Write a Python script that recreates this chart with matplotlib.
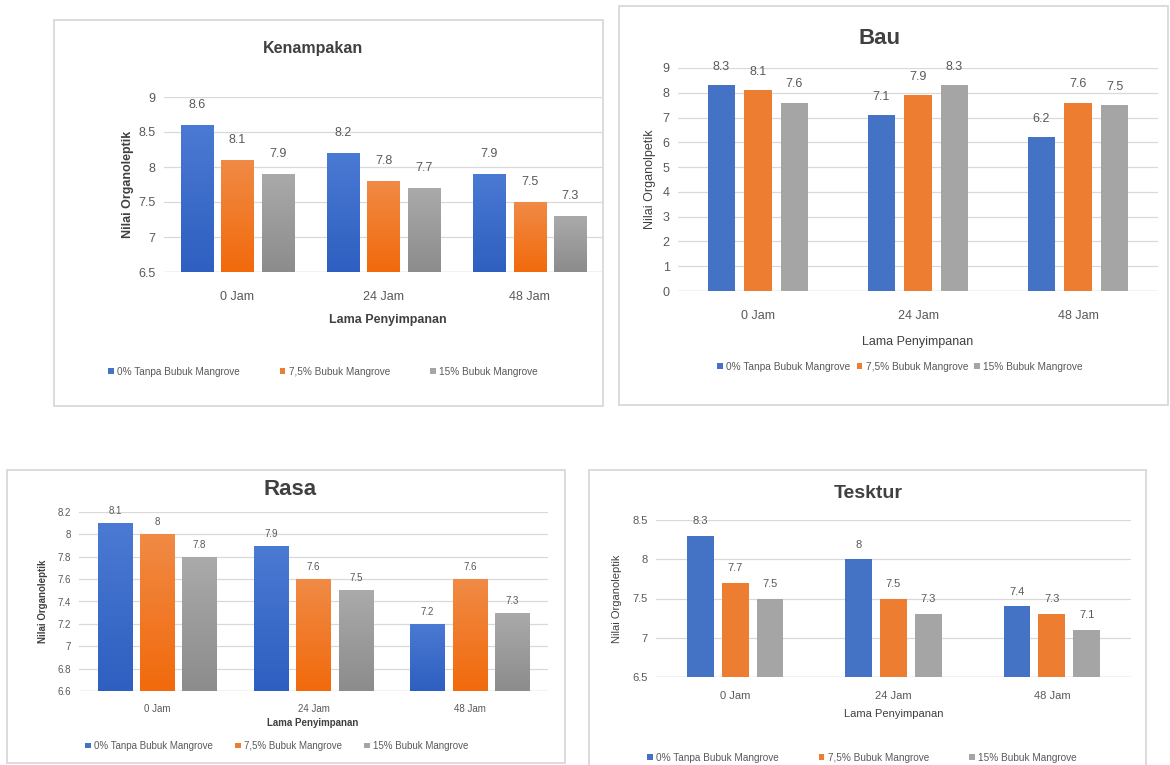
import matplotlib
matplotlib.use("Agg")
import matplotlib.pyplot as plt
import numpy as np
from matplotlib.patches import Rectangle
from matplotlib.colors import LinearSegmentedColormap

plt.rcParams['font.family'] = ['Liberation Sans', 'DejaVu Sans']

# ---- data ----
categories = ["0 Jam", "24 Jam", "48 Jam"]
series_names = ["0% Tanpa Bubuk Mangrove", "7,5% Bubuk Mangrove", "15% Bubuk Mangrove"]

kenampakan_0 = [8.6, 8.2, 7.9]
kenampakan_75 = [8.1, 7.8, 7.5]
kenampakan_15 = [7.9, 7.7, 7.3]

bau_0 = [8.3, 7.1, 6.2]
bau_75 = [8.1, 7.9, 7.6]
bau_15 = [7.6, 8.3, 7.5]

rasa_0 = [8.1, 7.9, 7.2]
rasa_75 = [8.0, 7.6, 7.6]
rasa_15 = [7.8, 7.5, 7.3]

tekstur_0 = [8.3, 8.0, 7.4]
tekstur_75 = [7.7, 7.5, 7.3]
tekstur_15 = [7.5, 7.3, 7.1]

kenampakan_ticks = [6.5, 7, 7.5, 8, 8.5, 9]
bau_ticks = [0, 1, 2, 3, 4, 5, 6, 7, 8, 9]
rasa_ticks = [6.6, 6.8, 7, 7.2, 7.4, 7.6, 7.8, 8, 8.2]
tekstur_ticks = [6.5, 7, 7.5, 8, 8.5]

colors = ["#4472C4", "#ED7D31", "#A5A5A5"]
grad_pairs = [("#4a7ad3", "#2f5fc0"), ("#f08a45", "#f26a0c"), ("#aaaaaa", "#8c8c8c")]

W, H = 1170, 765
fig = plt.figure(figsize=(W / 100, H / 100), dpi=100)
fig.patch.set_facecolor("white")


def px_axes(x0, y0, x1, y1):
    return fig.add_axes([x0 / W, 1 - y1 / H, (x1 - x0) / W, (y1 - y0) / H])


def px_box(x0, y0, x1, y1):
    fig.patches.append(Rectangle((x0 / W, 1 - y1 / H), (x1 - x0) / W, (y1 - y0) / H,
                                 transform=fig.transFigure, fill=False,
                                 edgecolor="#d9d9d9", linewidth=1.3, zorder=0))


def fmt(v):
    s = ("%.1f" % v)
    return s[:-2] if s.endswith(".0") else s


def panel(box, axbox, title, title_xy, title_size, values, ticks, width, offset,
          ylabel, ylabel_x, ylabel_bold, xlabel_x, xlabel_y, xlabel_bold, cat_pad,
          legend_xy, legend_fs, legend_spacing, label_pad, fs, gradient=False):
    px_box(*box)
    ax = px_axes(*axbox)
    ax.set_facecolor("none")
    x = np.arange(len(categories))
    for i, (vals, col) in enumerate(zip(values, colors)):
        bars = ax.bar(x + (i - 1) * offset, np.array(vals) - ticks[0], width, bottom=ticks[0],
                      color=col, label=series_names[i], zorder=3)
        if gradient:
            cmap = LinearSegmentedColormap.from_list("g", [grad_pairs[i][1], grad_pairs[i][0]])
            grad = np.linspace(0, 1, 64).reshape(-1, 1)
            for b in bars:
                bx, by = b.get_x(), b.get_y()
                im = ax.imshow(grad, cmap=cmap, aspect="auto", origin="lower",
                               extent=(bx, bx + b.get_width(), by, by + b.get_height()),
                               zorder=3.5)
                im.set_clip_path(b)
        for b, v in zip(bars, vals):
            ax.annotate(fmt(v), (b.get_x() + b.get_width() / 2, v), xytext=(0, label_pad),
                        textcoords="offset points", ha="center", va="bottom",
                        fontsize=fs, color="#595959", zorder=5)
    ax.set_xlim(-0.5, 2.5)
    ax.set_ylim(ticks[0], ticks[-1])
    ax.set_yticks(ticks)
    ax.set_yticklabels([fmt(t) for t in ticks], fontsize=fs, color="#595959")
    ax.set_xticks(x)
    ax.set_xticklabels(categories, fontsize=fs, color="#595959")
    ax.tick_params(axis="both", length=0)
    ax.tick_params(axis="x", pad=cat_pad)
    ax.tick_params(axis="y", pad=6)
    ax.grid(axis="y", color="#d9d9d9", linewidth=0.9, zorder=0)
    for s in ax.spines.values():
        s.set_visible(False)
    ax.axhline(ticks[0], color="#d9d9d9", linewidth=1.0, zorder=2)

    fig.text(title_xy[0] / W, 1 - title_xy[1] / H, title, ha="center", va="center",
             fontsize=title_size, fontweight="bold", color="#404040")
    fig.text(ylabel_x / W, 1 - (axbox[1] + axbox[3]) / 2 / H, ylabel, rotation=90,
             ha="center", va="center", fontsize=fs,
             fontweight="bold" if ylabel_bold else "normal", color="#404040")
    fig.text(xlabel_x / W, 1 - xlabel_y / H, "Lama Penyimpanan", ha="center", va="center",
             fontsize=fs, fontweight="bold" if xlabel_bold else "normal", color="#404040")
    ax.legend(loc="center", bbox_to_anchor=(legend_xy[0] / W, 1 - legend_xy[1] / H),
              bbox_transform=fig.transFigure, ncol=3, frameon=False,
              fontsize=legend_fs, handlelength=0.55, handleheight=0.55,
              handletextpad=0.35, columnspacing=legend_spacing, labelcolor="#595959")
    return ax


panel(box=(54, 20, 603, 406), axbox=(164, 97, 603, 272), title="Kenampakan",
      title_xy=(313, 48), title_size=11.5,
      values=[kenampakan_0, kenampakan_75, kenampakan_15], ticks=kenampakan_ticks,
      width=0.22, offset=0.277, ylabel="Nilai Organoleptik", ylabel_x=128, ylabel_bold=True,
      xlabel_x=388, xlabel_y=320, xlabel_bold=True, cat_pad=14, legend_xy=(323, 372),
      legend_fs=7.2, legend_spacing=4.0, label_pad=10, fs=9, gradient=True)

panel(box=(619, 6, 1168, 405), axbox=(678, 68, 1158, 291), title="Bau",
      title_xy=(880, 38), title_size=16,
      values=[bau_0, bau_75, bau_15], ticks=bau_ticks,
      width=0.17, offset=0.228, ylabel="Nilai Organolpetik", ylabel_x=650, ylabel_bold=False,
      xlabel_x=918, xlabel_y=342, xlabel_bold=False, cat_pad=14, legend_xy=(900, 367),
      legend_fs=7.3, legend_spacing=0.6, label_pad=9, fs=9)

panel(box=(7, 470, 565, 763), axbox=(79, 512, 548, 691), title="Rasa",
      title_xy=(290, 490), title_size=16,
      values=[rasa_0, rasa_75, rasa_15], ticks=rasa_ticks,
      width=0.22, offset=0.27, ylabel="Nilai Organoleptik", ylabel_x=43, ylabel_bold=True,
      xlabel_x=313, xlabel_y=723, xlabel_bold=True, cat_pad=9, legend_xy=(277, 746),
      legend_fs=7.0, legend_spacing=2.3, label_pad=5, fs=7, gradient=True)

panel(box=(589, 470, 1146, 770), axbox=(656, 520, 1131, 677), title="Tesktur",
      title_xy=(868, 493), title_size=14,
      values=[tekstur_0, tekstur_75, tekstur_15], ticks=tekstur_ticks,
      width=0.17, offset=0.22, ylabel="Nilai Organoleptik", ylabel_x=617, ylabel_bold=False,
      xlabel_x=894, xlabel_y=714, xlabel_bold=False, cat_pad=10, legend_xy=(862, 758),
      legend_fs=7.2, legend_spacing=4.0, label_pad=7, fs=8)

fig.savefig("out.png", dpi=100, facecolor="white")
